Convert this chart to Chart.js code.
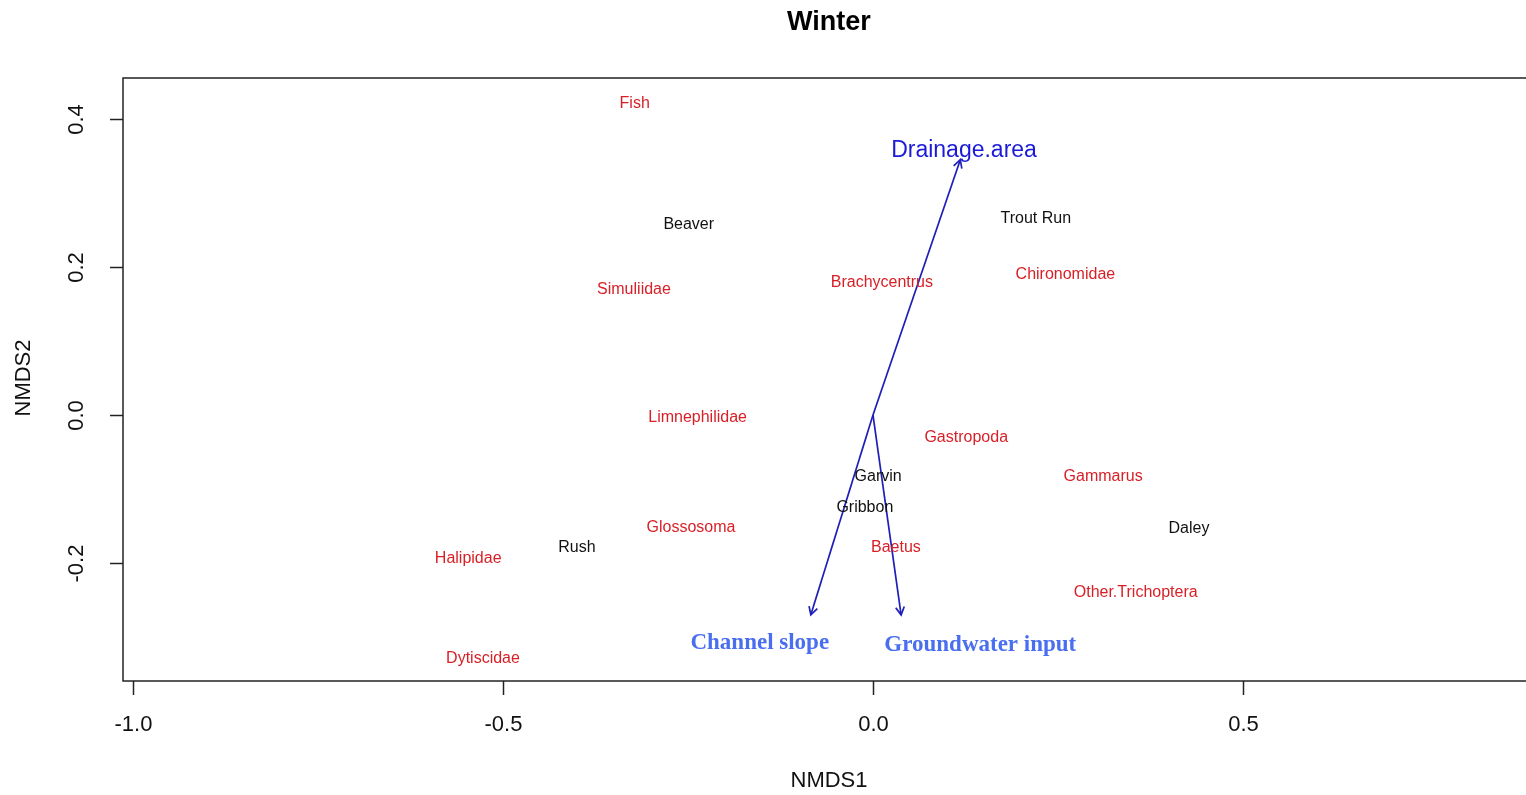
<!DOCTYPE html>
<html>
<head>
<meta charset="utf-8">
<title>Winter</title>
<script src="https://cdn.jsdelivr.net/npm/chart.js@4"></script>
<style>
  html, body { margin: 0; padding: 0; background: #fff; overflow: hidden; }
  #wrap { width: 1526px; height: 795px; overflow: hidden; }
</style>
</head>
<body>
<div id="wrap"><canvas id="myChart" width="1540" height="795"></canvas></div>
<script>
// species scores (red)
const speciesNames = ['Fish', 'Simuliidae', 'Brachycentrus', 'Chironomidae', 'Limnephilidae', 'Gastropoda',
  'Gammarus', 'Glossosoma', 'Baetus', 'Halipidae', 'Other.Trichoptera', 'Dytiscidae'];
const speciesX = [-0.322, -0.323, 0.012, 0.260, -0.237, 0.126, 0.311, -0.246, 0.031, -0.547, 0.355, -0.527];
const speciesY = [0.424, 0.172, 0.181, 0.192, -0.001, -0.028, -0.081, -0.150, -0.176, -0.191, -0.237, -0.327];

// site scores (black)
const siteNames = ['Beaver', 'Trout Run', 'Garvin', 'Gribbon', 'Daley', 'Rush'];
const siteX = [-0.249, 0.220, 0.007, -0.011, 0.427, -0.400];
const siteY = [0.260, 0.268, -0.080, -0.123, -0.151, -0.176];

// environmental vectors (arrow tips) and where their labels sit
const vectorNames = ['Drainage.area', 'Channel slope', 'Groundwater input'];
const vectorX = [0.118, -0.084, 0.038];
const vectorY = [0.345, -0.270, -0.270];
const vectorLabelX = [0.123, -0.153, 0.145];
const vectorLabelY = [0.360, -0.305, -0.308];

const xTicks = [-1.0, -0.5, 0.0, 0.5];
const yTicks = [0.4, 0.2, 0.0, -0.2];

const RED = '#d81f26';
const ARROW = '#1e1eb8';

function pts(xs, ys) {
  return xs.map(function (x, i) { return { x: x, y: ys[i] }; });
}

var datasets = [
  { label: 'species', data: pts(speciesX, speciesY), pointRadius: 0, names: speciesNames,
    textColor: RED, font: '16px "Liberation Sans", Arial, sans-serif' },
  { label: 'sites', data: pts(siteX, siteY), pointRadius: 0, names: siteNames,
    textColor: '#111', font: '16px "Liberation Sans", Arial, sans-serif' }
];
vectorNames.forEach(function (n, i) {
  datasets.push({
    type: 'line', label: n, isArrow: true,
    data: [{ x: 0, y: 0 }, { x: vectorX[i], y: vectorY[i] }],
    borderColor: ARROW, borderWidth: 1.7, pointRadius: 0, fill: false, tension: 0
  });
});
datasets.push({
  label: 'vectors', data: pts(vectorLabelX, vectorLabelY), pointRadius: 0, names: vectorNames,
  textColor: ['#1a1ad8', '#4a6ef0', '#4a6ef0'],
  font: ['23px "Liberation Sans", Arial, sans-serif', 'bold 23px "Liberation Serif", "Times New Roman", serif',
         'bold 23px "Liberation Serif", "Times New Roman", serif']
});

// R style box, axes, labels and arrow heads
const rPlot = {
  id: 'rPlot',
  afterDatasetsDraw: function (chart) {
    var ctx = chart.ctx, a = chart.chartArea;
    var xs = chart.scales.x, ys = chart.scales.y;
    ctx.save();

    // arrow heads
    chart.data.datasets.forEach(function (ds, di) {
      if (!ds.isArrow) return;
      var m = chart.getDatasetMeta(di).data;
      var x0 = m[0].x, y0 = m[0].y, x1 = m[1].x, y1 = m[1].y;
      var ang = Math.atan2(y1 - y0, x1 - x0), L = 9;
      ctx.strokeStyle = ds.borderColor;
      ctx.lineWidth = 1.7;
      ctx.beginPath();
      ctx.moveTo(x1 - L * Math.cos(ang - 0.5), y1 - L * Math.sin(ang - 0.5));
      ctx.lineTo(x1, y1);
      ctx.lineTo(x1 - L * Math.cos(ang + 0.5), y1 - L * Math.sin(ang + 0.5));
      ctx.stroke();
    });

    // text labels at point positions
    ctx.textAlign = 'center';
    ctx.textBaseline = 'middle';
    chart.data.datasets.forEach(function (ds, di) {
      if (!ds.names) return;
      var m = chart.getDatasetMeta(di).data;
      ds.names.forEach(function (n, i) {
        ctx.fillStyle = Array.isArray(ds.textColor) ? ds.textColor[i] : ds.textColor;
        ctx.font = Array.isArray(ds.font) ? ds.font[i] : ds.font;
        ctx.fillText(n, m[i].x, m[i].y + 2);
      });
    });

    // box
    ctx.strokeStyle = '#222';
    ctx.lineWidth = 1.5;
    ctx.strokeRect(a.left, a.top, a.right - a.left, a.bottom + 1 - a.top);

    // x axis
    ctx.fillStyle = '#111';
    ctx.font = '22px "Liberation Sans", Arial, sans-serif';
    xTicks.forEach(function (t) {
      var px = Math.round(xs.getPixelForValue(t)) + 0.5;
      ctx.beginPath();
      ctx.moveTo(px, a.bottom + 1);
      ctx.lineTo(px, a.bottom + 15);
      ctx.stroke();
      ctx.fillText(t.toFixed(1), px, a.bottom + 45);
    });
    ctx.fillText('NMDS1', (a.left + a.right) / 2, 781);

    // y axis
    yTicks.forEach(function (t) {
      var py = Math.round(ys.getPixelForValue(t)) + 0.5;
      ctx.beginPath();
      ctx.moveTo(a.left - 13, py);
      ctx.lineTo(a.left, py);
      ctx.stroke();
      ctx.save();
      ctx.translate(a.left - 46, py);
      ctx.rotate(-Math.PI / 2);
      ctx.fillText(t.toFixed(1), 0, 0);
      ctx.restore();
    });
    ctx.save();
    ctx.translate(24, (a.top + a.bottom) / 2 - 1);
    ctx.rotate(-Math.PI / 2);
    ctx.fillText('NMDS2', 0, 0);
    ctx.restore();

    ctx.restore();
  }
};

var myChart = new Chart(document.getElementById('myChart'), {
  type: 'scatter',
  data: { datasets: datasets },
  options: {
    responsive: false,
    animation: false,
    devicePixelRatio: 1,
    layout: { padding: { left: 123, right: 5, top: 0, bottom: 115 } },
    scales: {
      x: { type: 'linear', display: false, min: -1.0135, max: 0.8946 },
      y: { type: 'linear', display: false, min: -0.358, max: 0.4554 }
    },
    plugins: {
      legend: { display: false },
      tooltip: { enabled: false },
      title: {
        display: true, text: 'Winter', color: '#000',
        font: { family: '"Liberation Sans", Arial, sans-serif', size: 27, weight: 'bold', lineHeight: 1.2 },
        padding: { top: 6, bottom: 39.6 }
      }
    }
  },
  plugins: [rPlot]
});
</script>
</body>
</html>
